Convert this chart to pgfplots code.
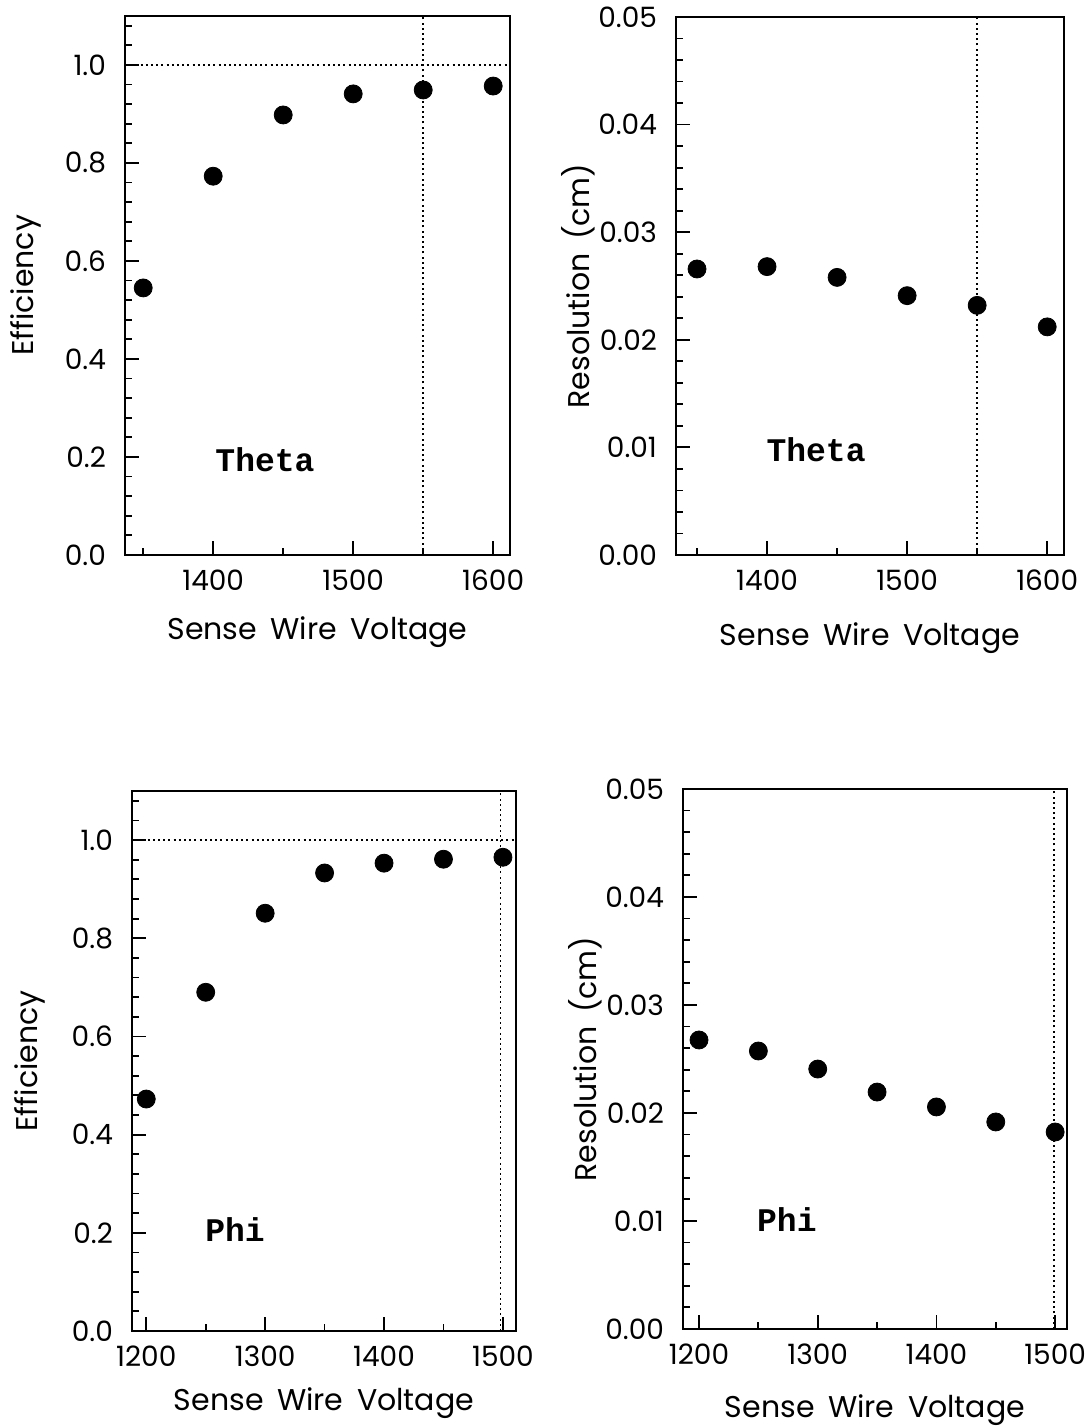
\documentclass[border=0pt]{standalone}
\usepackage{fontspec}
\setmainfont{Poppins}
\newfontfamily\axfont{Poppins}
\newfontfamily\tagfont{Liberation Mono}[BoldFont=* Bold]
\usepackage{pgfplots}
\pgfplotsset{compat=1.18}

\pgfplotsset{
  myaxis/.style={
    scale only axis,
    axis line style={line width=1.2pt},
    tick align=inside,
    xtick pos=bottom, ytick pos=left,
    major tick length=7pt, minor tick length=3.5pt,
    tick style={black, line width=0.9pt},
    tick label style={font=\axfont\fontsize{14}{14}\selectfont},
    /pgf/number format/assume math mode=true,
    xticklabel style={/pgf/number format/set thousands separator={}, yshift=-4pt},
    label style={font=\axfont\fontsize{15}{15}\selectfont},
    xlabel={Sense\hspace{0.45em}Wire\hspace{0.45em}Voltage},
  },
  effaxis/.style={
    myaxis,
    ymin=0, ymax=1.1,
    ytick={0,0.2,0.4,0.6,0.8,1.0},
    minor ytick={0.04,0.08,0.12,0.16,0.24,0.28,0.32,0.36,0.44,0.48,0.52,0.56,0.64,0.68,0.72,0.76,0.84,0.88,0.92,0.96,1.04,1.08},
    yticklabel style={/pgf/number format/fixed, /pgf/number format/fixed zerofill, /pgf/number format/precision=1, xshift=-6pt},
    ylabel={Efficiency},
  },
  resaxis/.style={
    myaxis,
    ymin=0, ymax=0.05,
    ytick={0,0.01,0.02,0.03,0.04,0.05},
    minor ytick={0.002,0.004,0.006,0.008,0.012,0.014,0.016,0.018,0.022,0.024,0.026,0.028,0.032,0.034,0.036,0.038,0.042,0.044,0.046,0.048},
    yticklabel style={/pgf/number format/fixed, /pgf/number format/fixed zerofill, /pgf/number format/precision=2, xshift=-6pt},
    ylabel={Resolution\hspace{0.45em}(cm)},
    scaled y ticks=false,
  },
  pts/.style={only marks, mark=*, mark size=4.5pt, black, mark options={fill=black}},
  dots/.style={black, line width=0.9pt, dash pattern=on 1pt off 1.6pt},
}

\begin{document}
\begin{tikzpicture}
\useasboundingbox (0,0) rectangle (545pt,714pt);

% Top-left: Efficiency, Theta
\begin{axis}[effaxis,
  at={(62.5pt,436.5pt)}, anchor=south west,
  width=192.5pt, height=269.5pt,
  xmin=1337, xmax=1612,
  xtick={1400,1500,1600},
  minor xtick={1350,1450,1550},
  xlabel style={at={(axis description cs:0.5,-0.143)}, anchor=center},
  ylabel style={at={(axis description cs:-0.257,0.5)}, anchor=center},
]
\addplot[dots] coordinates {(1337,1) (1612,1)};
\addplot[dots] coordinates {(1550,0) (1550,1.1)};
\addplot[pts] coordinates {
(1350,0.545) (1400,0.773) (1450,0.898) (1500,0.941) (1550,0.949) (1600,0.957)};
\node[font=\tagfont\bfseries\fontsize{16.5}{16.5}\selectfont] at (axis cs:1437,0.194) {Theta};
\end{axis}

% Top-right: Resolution, Theta
\begin{axis}[resaxis,
  at={(338pt,436.5pt)}, anchor=south west,
  width=194pt, height=269pt,
  xmin=1335, xmax=1612,
  xtick={1400,1500,1600},
  minor xtick={1350,1450,1550},
  xlabel style={at={(axis description cs:0.5,-0.154)}, anchor=center},
  ylabel style={at={(axis description cs:-0.253,0.5)}, anchor=center},
]
\addplot[dots] coordinates {(1550,0) (1550,0.05)};
\addplot[pts] coordinates {
(1350,0.02658) (1400,0.0268) (1450,0.0258) (1500,0.0241) (1550,0.0232) (1600,0.0212)};
\node[font=\tagfont\bfseries\fontsize{16.5}{16.5}\selectfont] at (axis cs:1435,0.00976) {Theta};
\end{axis}

% Bottom-left: Efficiency, Phi
\begin{axis}[effaxis,
  at={(66pt,48.5pt)}, anchor=south west,
  width=192pt, height=270pt,
  xmin=1188, xmax=1511,
  xtick={1200,1300,1400,1500},
  minor xtick={1250,1350,1450},
  xlabel style={at={(axis description cs:0.5,-0.133)}, anchor=center},
  ylabel style={at={(axis description cs:-0.266,0.5)}, anchor=center},
]
\addplot[dots] coordinates {(1188,1) (1511,1)};
\addplot[dots] coordinates {(1498,0) (1498,1.1)};
\addplot[pts] coordinates {
(1200,0.4725) (1250,0.690) (1300,0.851) (1350,0.933) (1400,0.953) (1450,0.961) (1500,0.965)};
\node[font=\tagfont\bfseries\fontsize{16.5}{16.5}\selectfont] at (axis cs:1274.6,0.206) {Phi};
\end{axis}

% Bottom-right: Resolution, Phi
\begin{axis}[resaxis,
  at={(341.5pt,49.5pt)}, anchor=south west,
  width=192pt, height=270pt,
  xmin=1186.5, xmax=1510,
  xtick={1200,1300,1400,1500},
  minor xtick={1250,1350,1450},
  xlabel style={at={(axis description cs:0.5,-0.15)}, anchor=center},
  ylabel style={at={(axis description cs:-0.255,0.5)}, anchor=center},
]
\addplot[dots] coordinates {(1499,0) (1499,0.05)};
\addplot[pts] coordinates {
(1200,0.02676) (1250,0.02574) (1300,0.02407) (1350,0.02194) (1400,0.02056) (1450,0.01917) (1500,0.01824)};
\node[font=\tagfont\bfseries\fontsize{16.5}{16.5}\selectfont] at (axis cs:1274,0.0101) {Phi};
\end{axis}
\end{tikzpicture}
\end{document}
